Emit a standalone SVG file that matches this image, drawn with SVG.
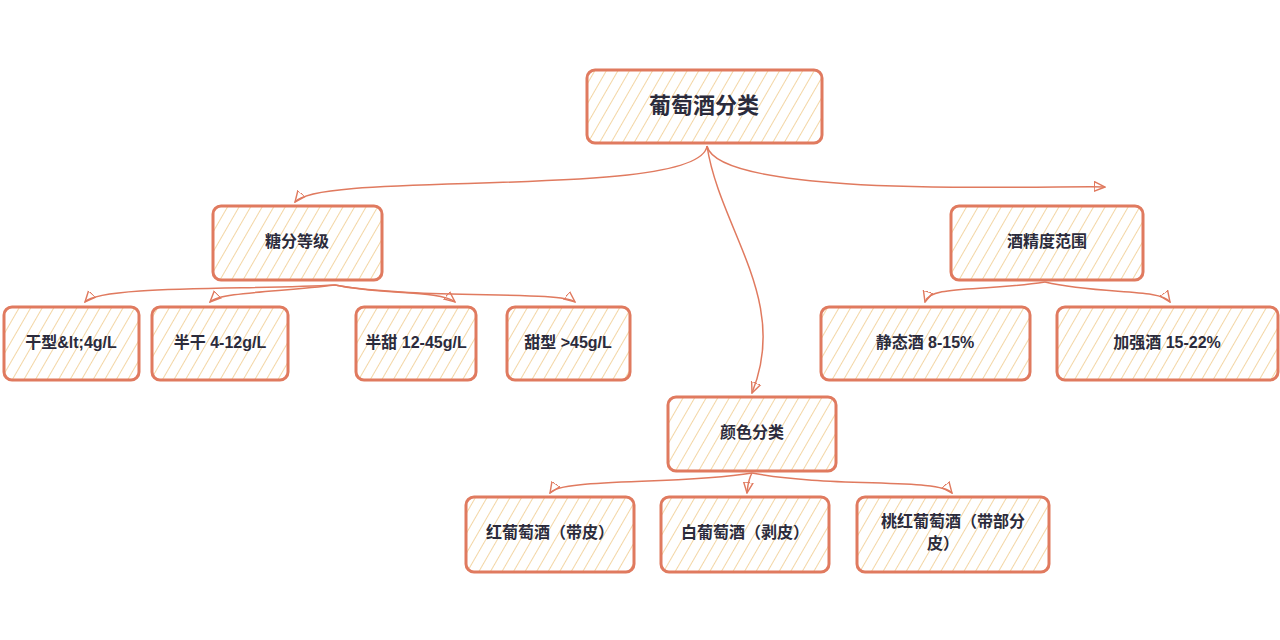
<svg xmlns="http://www.w3.org/2000/svg" width="1280" height="640" viewBox="0 0 1280 640">
<style>
.n rect{fill:url(#h);stroke:#e07a5f;stroke-width:3}
.n text{font-family:"Liberation Sans","Noto Sans CJK SC",sans-serif;font-weight:bold;font-size:16px;fill:#2b2b3c;text-anchor:middle;dominant-baseline:middle}
.e path{fill:none;stroke:#e07a5f;stroke-width:1.5;marker-end:url(#a)}
</style>
<defs>
<pattern id="h" width="10" height="10" patternUnits="userSpaceOnUse" patternTransform="rotate(30)">
<rect width="10" height="10" fill="#fff"/>
<line x1="0" y1="0" x2="0" y2="10" stroke="#f0c987" stroke-width="1.5"/>
</pattern>
<marker id="a" viewBox="0 0 10 10" refX="9" refY="5" markerWidth="8" markerHeight="8" orient="auto">
<path d="M0,1 L9,5 L0,9 Z" fill="none" stroke="#e07a5f" stroke-width="1.2"/>
</marker>
</defs>
<g class="e">
<path d="M707,146 C700,200 320,170 295,202"/>
<path d="M707,146 C720,230 790,300 752,393"/>
<path d="M707,146 C720,200 1060,185 1105,187"/>
<path d="M335,285 C250,290 100,285 85,302"/>
<path d="M335,285 C280,292 220,292 210,302"/>
<path d="M335,285 C380,295 440,290 455,302"/>
<path d="M335,285 C420,300 560,290 575,302"/>
<path d="M1045,282 C980,292 930,285 925,302"/>
<path d="M1045,282 C1100,295 1160,288 1170,302"/>
<path d="M752,473 C680,485 560,478 550,493"/>
<path d="M752,473 C748,480 748,485 747,493"/>
<path d="M752,473 C830,488 940,478 952,493"/>
</g>
<g class="n" id="root"><rect x="587" y="70" width="235" height="73" rx="8"/><text x="704" y="107" font-size="22" style="font-size:22px">葡萄酒分类</text></g>
<g class="n" id="sugar"><rect x="213" y="206" width="169" height="74" rx="8"/><text x="297" y="243">糖分等级</text></g>
<g class="n" id="alc"><rect x="951" y="206" width="192" height="74" rx="8"/><text x="1047" y="243">酒精度范围</text></g>
<g class="n" id="color"><rect x="668" y="397" width="168" height="74" rx="8"/><text x="752" y="434">颜色分类</text></g>
<g class="n" id="dry"><rect x="4" y="307" width="135" height="73" rx="8"/><text x="71" y="344">干型&amp;lt;4g/L</text></g>
<g class="n" id="semidry"><rect x="152" y="307" width="136" height="73" rx="8"/><text x="220" y="344">半干 4-12g/L</text></g>
<g class="n" id="semisweet"><rect x="356" y="307" width="120" height="73" rx="8"/><text x="416" y="344">半甜 12-45g/L</text></g>
<g class="n" id="sweet"><rect x="507" y="307" width="123" height="73" rx="8"/><text x="568" y="344">甜型 &gt;45g/L</text></g>
<g class="n" id="still"><rect x="821" y="307" width="209" height="73" rx="8"/><text x="925" y="344">静态酒 8-15%</text></g>
<g class="n" id="fort"><rect x="1057" y="307" width="221" height="73" rx="8"/><text x="1167" y="344">加强酒 15-22%</text></g>
<g class="n" id="red"><rect x="466" y="497" width="168" height="75" rx="8"/><text x="550" y="534">红葡萄酒（带皮）</text></g>
<g class="n" id="white"><rect x="661" y="497" width="168" height="75" rx="8"/><text x="745" y="534">白葡萄酒（剥皮）</text></g>
<g class="n" id="rose"><rect x="857" y="497" width="192" height="75" rx="8"/><text x="953" y="523">桃红葡萄酒（带部分</text><text x="943" y="545">皮）</text></g>
</svg>
